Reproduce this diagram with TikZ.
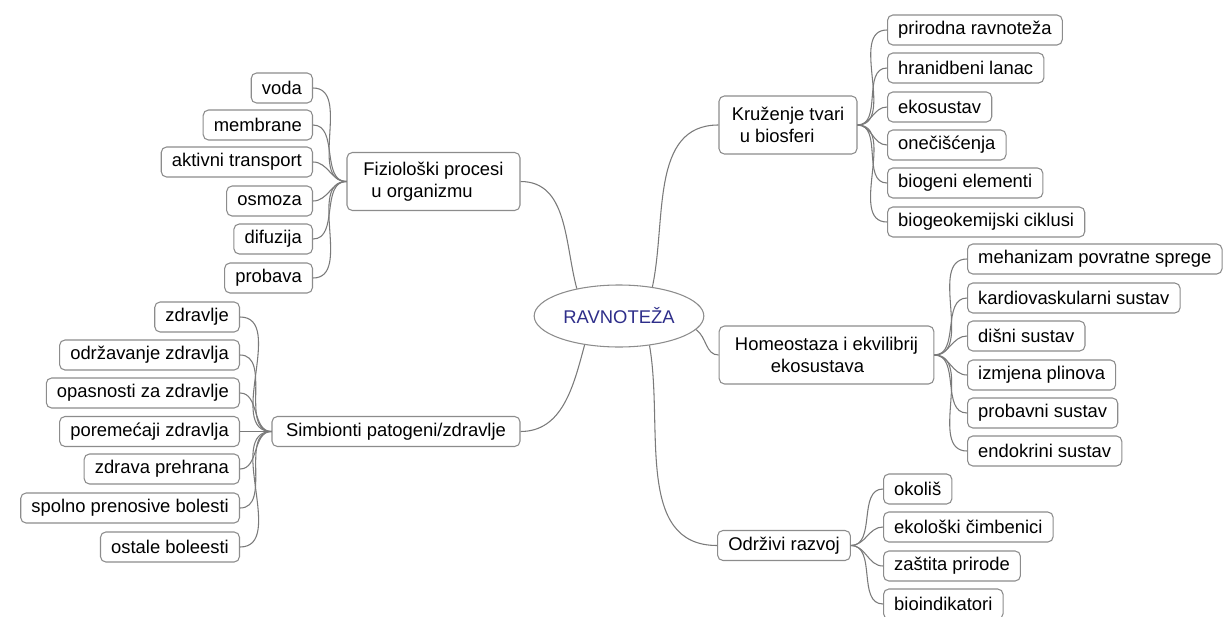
\documentclass[tikz,border=0pt]{standalone}
\usepackage{fontspec}
\setmainfont{Liberation Sans}
\definecolor{boxgray}{HTML}{8C8C8C}
\definecolor{linegray}{HTML}{7A7A7A}
\definecolor{coreblue}{HTML}{2E2E8A}
\tikzset{
  leaf/.style={draw=boxgray, line width=0.8pt, rounded corners=4pt, fill=white,
    minimum height=22.5pt, inner xsep=8pt, inner ysep=1pt,
    font=\fontsize{13.8}{16.5}\selectfont},
  topic/.style={leaf, align=left, minimum height=43.5pt},
  core/.style={draw=boxgray, line width=0.8pt, ellipse, fill=white,
    minimum width=101pt, minimum height=46.5pt, text=coreblue,
    font=\fontsize{13.8}{16.5}\selectfont},
  twig/.style={draw=linegray, line width=0.8pt},
}
\usetikzlibrary{shapes}
\newcommand{\leafL}[4]{\node[leaf,anchor=east] (#1) at (#2,#3) {#4};}
\newcommand{\leafR}[4]{\node[leaf,anchor=west] (#1) at (#2,#3) {#4};}
\newcommand{\twigL}[2]{\draw[twig] (#1.west) to[out=180,in=0] (#2.east);}
\newcommand{\twigR}[2]{\draw[twig] (#1.east) to[out=0,in=180] (#2.west);}

\begin{document}
\begin{tikzpicture}[x=0.75pt,y=-0.75pt]
    \useasboundingbox (0,0) rectangle (1224,617);
    \node[core] (core) at (619,316) {RAVNOTEŽA};

    % lijevo gore
    \node[topic,minimum width=129.75pt] (fiz) at (433.5,181.5) {Fiziološki procesi\\\hspace{6pt}u organizmu};
    \leafL{F1}{313}{88}{voda}    \leafL{F2}{313}{125}{membrane}
    \leafL{F3}{313}{162}{aktivni transport}    \leafL{F4}{313}{201}{osmoza}
    \leafL{F5}{313}{239}{difuzija}    \leafL{F6}{313}{278}{probava}
    \twigL{fiz}{F1}\twigL{fiz}{F2}\twigL{fiz}{F3}
    \twigL{fiz}{F4}\twigL{fiz}{F5}\twigL{fiz}{F6}

    % lijevo dolje
    \node[leaf,minimum width=186pt] (simb) at (396,431.5) {Simbionti patogeni/zdravlje};
    \leafL{S1}{240}{317}{zdravlje}    \leafL{S2}{240}{355}{održavanje zdravlja}
    \leafL{S3}{240}{393}{opasnosti za zdravlje}    \leafL{S4}{240}{431.5}{poremećaji zdravlja}
    \leafL{S5}{240}{469}{zdrava prehrana}    \leafL{S6}{240}{508}{spolno prenosive bolesti}
    \leafL{S7}{240}{547}{ostale boleesti}
    \twigL{simb}{S1}\twigL{simb}{S2}\twigL{simb}{S3}\twigL{simb}{S4}
    \twigL{simb}{S5}\twigL{simb}{S6}\twigL{simb}{S7}

    % desno gore
    \node[topic,minimum width=103.5pt] (kru) at (788,125) {Kruženje tvari\\\hspace{6pt}u biosferi};
    \leafR{K1}{887}{30}{prirodna ravnoteža}    \leafR{K2}{887}{68}{hranidbeni lanac}
    \leafR{K3}{887}{107}{ekosustav}    \leafR{K4}{887}{145}{onečišćenja}
    \leafR{K5}{887}{183}{biogeni elementi}    \leafR{K6}{887}{222}{biogeokemijski ciklusi}
    \twigR{kru}{K1}\twigR{kru}{K2}\twigR{kru}{K3}
    \twigR{kru}{K4}\twigR{kru}{K5}\twigR{kru}{K6}

    % desno sredina
    \node[topic,minimum width=161pt] (homeo) at (826.5,355) {Homeostaza i ekvilibrij\\\hspace{27pt}ekosustava};
    \leafR{H1}{967}{259}{mehanizam povratne sprege}    \leafR{H2}{967}{298}{kardiovaskularni sustav}
    \leafR{H3}{967}{336}{dišni sustav}    \leafR{H4}{967}{375}{izmjena plinova}
    \leafR{H5}{967}{413}{probavni sustav}    \leafR{H6}{967}{451}{endokrini sustav}
    \twigR{homeo}{H1}\twigR{homeo}{H2}\twigR{homeo}{H3}
    \twigR{homeo}{H4}\twigR{homeo}{H5}\twigR{homeo}{H6}

    % desno dolje
    \node[leaf,minimum width=96pt] (odr) at (784,545.5) {Održivi razvoj};
    \leafR{O1}{883}{489}{okoliš}    \leafR{O2}{883}{527}{ekološki čimbenici}
    \leafR{O3}{883}{566}{zaštita prirode}    \leafR{O4}{883}{604}{bioindikatori}
    \twigR{odr}{O1}\twigR{odr}{O2}\twigR{odr}{O3}\twigR{odr}{O4}

    % sredina
    \draw[twig] (core.147) to[out=105,in=0] (fiz.east);
    \draw[twig] (core.220) to[out=-105,in=0] (simb.east);
    \draw[twig] (core.41) to[out=78,in=180] (kru.west);
    \draw[twig] (core.350) to[out=-35,in=180] (homeo.west);
    \draw[twig] (core.316) to[out=-80,in=180] (odr.west);
\end{tikzpicture}
\end{document}
